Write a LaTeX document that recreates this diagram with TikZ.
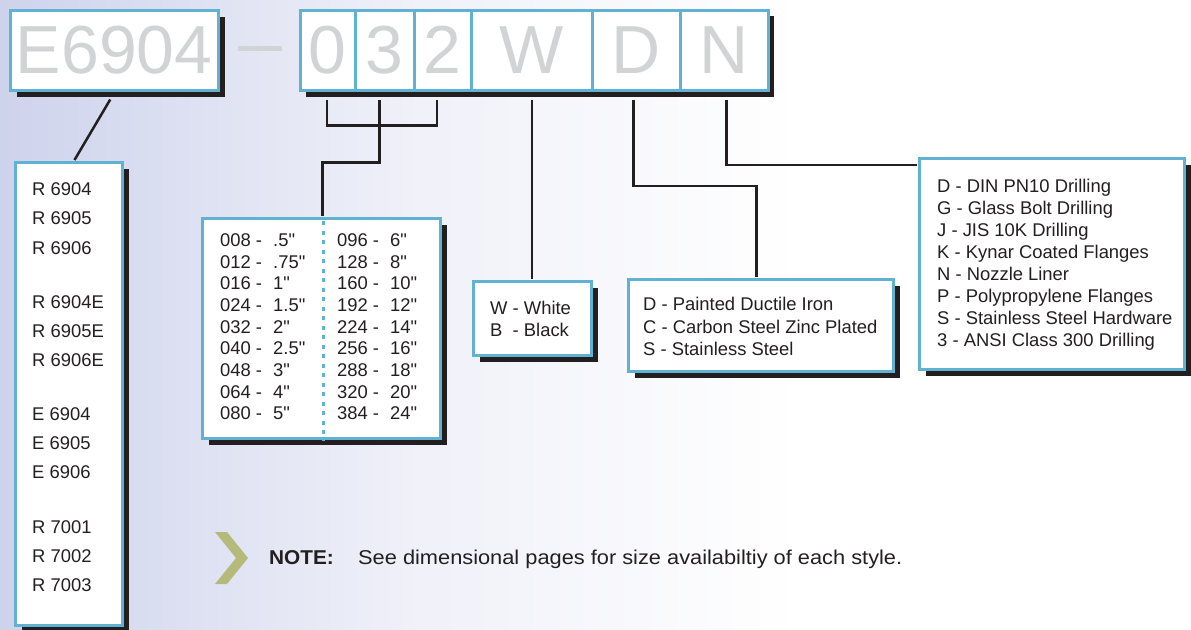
\documentclass[tikz,border=0pt]{standalone}
\usepackage{fontspec}
\setmainfont{Liberation Sans}[Ligatures=TeXOff]
\usetikzlibrary{calc,shadows}
\definecolor{boxblue}{RGB}{95,178,210}
\definecolor{shadowc}{RGB}{35,31,32}
\definecolor{biggrey}{RGB}{209,211,212}
\definecolor{bgL}{RGB}{206,211,236}
\definecolor{bgM}{RGB}{240,241,249}
\definecolor{olive}{RGB}{181,186,122}
\definecolor{ink}{RGB}{35,31,32}
\tikzset{
  box/.style={draw=boxblue, line width=3pt, fill=white, inner sep=0pt, anchor=north west,
    drop shadow={shadow xshift=6.5pt, shadow yshift=-6.5pt, opacity=1, fill=shadowc}},
  cell/.style={draw=boxblue, line width=2.5pt, fill=white, inner sep=0pt, anchor=north west,
    minimum height=80pt, text=biggrey, font=\fontsize{68}{68}\selectfont},
  conn/.style={draw=ink, line width=2.5pt},
  lbl/.style={anchor=base west, inner sep=0pt, text=ink, font=\fontsize{18.4}{22}\selectfont},
}
\begin{document}
\begin{tikzpicture}[x=1pt,y=-1pt]
\useasboundingbox (0,0) rectangle (1191,629);
% background
\shade[left color=bgL, right color=bgM] (0,0) rectangle (420,629);
\shade[left color=bgM, right color=white] (420,0) rectangle (800,629);
\fill[white] (800,0) rectangle (1191,629);

% top code row
\node[cell, minimum width=208pt, drop shadow={shadow xshift=6.5pt, shadow yshift=-6.5pt, opacity=1, fill=shadowc}] (e6904) at (9,9) {E6904};
\fill[shadowc] (305.5,15.5) rectangle (773.5,96.5);
\node[cell, minimum width=55pt] (c0) at (299,9) {0};
\node[cell, minimum width=59pt] (c3) at (354,9) {3};
\node[cell, minimum width=57pt] (c2) at (413,9) {2};
\node[cell, minimum width=121pt] (cW) at (470,9) {W};
\node[cell, minimum width=88pt] (cD) at (591,9) {D};
\node[cell, minimum width=88pt] (cN) at (679,9) {N};
\draw[biggrey, line width=5pt] ($(e6904.east)+(18,-2)$) -- ($(c0.west)+(-17,-2)$);

% boxes
\node[box, minimum width=107pt, minimum height=463pt] (lst) at (14,161) {};
\node[box, minimum width=238pt, minimum height=220pt] (sz) at (201,217) {};
\node[box, minimum width=118pt, minimum height=74pt] (wb) at (472,280) {};
\node[box, minimum width=265pt, minimum height=92pt] (db) at (627,278) {};
\node[box, minimum width=265pt, minimum height=211pt] (nb) at (918,157) {};

% connectors
\draw[conn] ($(e6904.south)+(-4,8)$) -- ($(lst.north)+(5.5,-1)$);
\draw[conn] ($(c0.south)+(-1,8)$) |- ($(c2.south)+(-6,34)$) -- ($(c2.south)+(-6,8)$);
\draw[conn] ($(c3.south)+(-5.5,8)$) -- ($(c3.south)+(-5.5,71)$) -| ($(sz.north)+(1,-1)$);
\draw[conn] ($(cW.south)+(0,8)$) -- ($(cW.south |- wb.north)+(0,-1)$);
\draw[conn] ($(cD.south)+(-3,8)$) |- ($(db.north)+(-4.5,-92)$) -- ($(db.north)+(-4.5,-1)$);
\draw[conn] ($(cN.south)+(2,8)$) |- ($(nb.north west)+(-1,8)$);

% left list
\foreach \t/\y [count=\i] in {R 6904/189, R 6905/218, R 6906/248, R 6904E/302, R 6905E/331, R 6906E/360,
  E 6904/414, E 6905/443, E 6906/472, R 7001/527, R 7002/556, R 7003/585}
  \node[lbl] (l\i) at (32,\y+6.6) {\t};

% sizes
\foreach \a/\b/\c/\d [count=\i] in {008/.5"/096/6", 012/.75"/128/8", 016/1"/160/10", 024/1.5"/192/12",
  032/2"/224/14", 040/2.5"/256/16", 048/3"/288/18", 064/4"/320/20", 080/5"/384/24"}{
  \node[lbl] (sa\i) at (220,240+21.67*\i-21.67+6.6) {\a{} -};
  \node[lbl] (sb\i) at (273,240+21.67*\i-21.67+6.6) {\b};
  \node[lbl] (sc\i) at (337,240+21.67*\i-21.67+6.6) {\c{} -};
  \node[lbl] (sd\i) at (390,240+21.67*\i-21.67+6.6) {\d};
}
\draw[boxblue, line width=3pt, dash pattern=on 4pt off 5.5pt] ($(sz.north)+(2,4)$) -- ($(sz.south)+(2,0)$);

% W box
\node[lbl] (w1) at (490,308+6.6) {W - White};
\node[lbl] (w2) at (490,330+6.6) {\rlap{B}\phantom{W} - Black};

% D box
\node[lbl] (d1) at (643,304+6.6) {D - Painted Ductile Iron};
\node[lbl] (d2) at (643,327+6.6) {C - Carbon Steel Zinc Plated};
\node[lbl] (d3) at (643,349+6.6) {S - Stainless Steel};

% N box
\foreach \t [count=\i] in {D - DIN PN10 Drilling, G - Glass Bolt Drilling, J - JIS 10K Drilling,
  K - Kynar Coated Flanges, N - Nozzle Liner, P - Polypropylene Flanges,
  S - Stainless Steel Hardware, 3 - ANSI Class 300 Drilling}
  \node[lbl] (n\i) at (937,185.5+22*\i-22+6.6) {\t};

% note
\fill[olive] (215,532) -- (227,532) -- (248,558) -- (227,584) -- (215,584) -- (236,558) -- cycle;
\node[lbl, font=\fontsize{20}{24}\selectfont\bfseries] (note) at (269,557+7.2) {\scalebox{1.04}[1]{NOTE:}};
\node[lbl, font=\fontsize{20}{24}\selectfont] (notetext) at (358,557+7.2) {\scalebox{1.09}[1]{See dimensional pages for size availabiltiy of each style.}};
\end{tikzpicture}
\end{document}
